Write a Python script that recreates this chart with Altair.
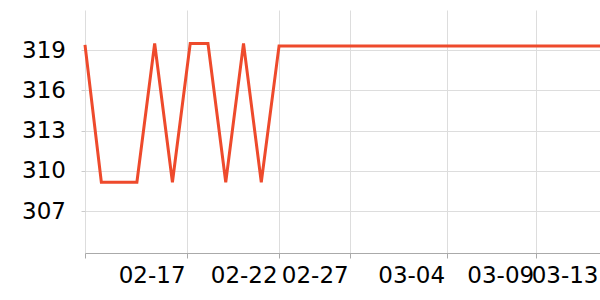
import altair as alt
import pandas as pd

# data (x in days from first sample, y values)
day = [0, 0.92, 1.92, 2.92, 3.92, 4.92, 5.92, 6.92, 7.92, 8.92, 9.92, 10.92,
       12, 14, 16, 18, 20, 22, 24, 26, 28.98]
value = [319.4, 309.15, 309.15, 309.15, 319.5, 309.15, 319.5, 319.5, 309.15, 319.5, 309.15, 319.32,
         319.32, 319.32, 319.32, 319.32, 319.32, 319.32, 319.32, 319.32, 319.32]

tick_pos = [0, 5.743, 10.923, 14.921, 20.349, 25.36, 28.98]
tick_labels = ["", "02-17", "02-22", "02-27", "03-04", "03-09", "03-13"]
y_ticks = [307, 310, 313, 316, 319]

df = pd.DataFrame({"day": day, "value": value})

# build label expression from lists
expr = "''"
for p, l in reversed(list(zip(tick_pos, tick_labels))):
    expr = f"abs(datum.value - {p}) < 0.01 ? '{l}' : ({expr})"

chart = alt.Chart(df).mark_line(color="#ee4a2c", strokeWidth=3).encode(
    x=alt.X("day:Q", scale=alt.Scale(domain=[0, 28.98], nice=False, zero=False),
            axis=alt.Axis(values=tick_pos, labelExpr=expr, title=None, labelAlign="right",
                          labelOffset=-2, labelFont="DejaVu Sans", labelFontSize=23,
                          labelColor="black", tickSize=5, labelPadding=6,
                          domainColor="#aaaaaa", tickColor="#aaaaaa", gridColor="#dddddd",
                          labelOverlap=False, labelBound=False, labelFlush=False)),
    y=alt.Y("value:Q", scale=alt.Scale(domain=[303.87, 322.0], nice=False, zero=False),
            axis=alt.Axis(values=y_ticks, title=None, labelFont="DejaVu Sans", labelFontSize=23,
                          labelColor="black", tickSize=4, labelPadding=15.6, domain=False,
                          tickColor="#cccccc", gridColor="#dddddd", labelOverlap=False)),
).properties(
    width=515, height=243,
    padding={"left": 85, "top": 10, "right": 0, "bottom": 47},
    autosize=alt.AutoSizeParams(type="none"),
).configure_view(stroke=None)

chart.save("out.html", embed_options={"renderer": "svg", "actions": False})
